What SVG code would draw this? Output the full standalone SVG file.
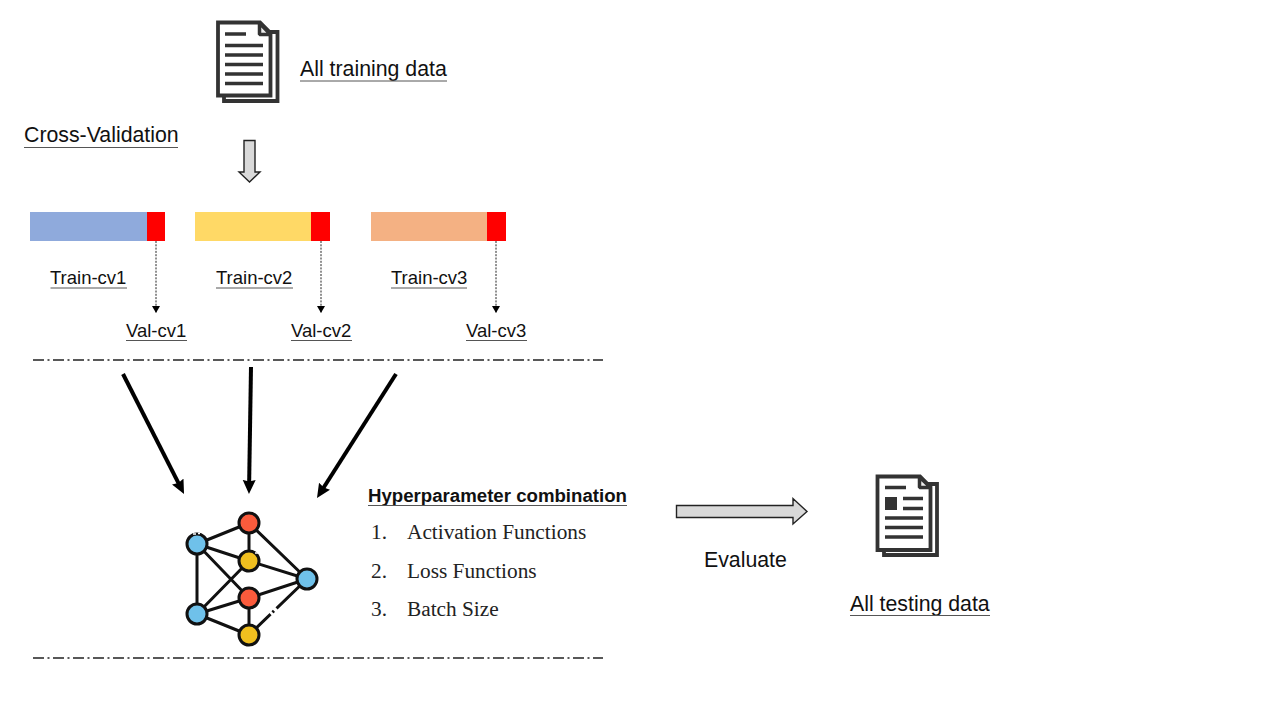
<svg xmlns="http://www.w3.org/2000/svg" width="1280" height="720" viewBox="0 0 1280 720">
<style>
text{font-family:"Liberation Sans",Arial,sans-serif;fill:#111;font-size:21.3px}
.m{font-size:18.500px}
.b{font-size:18.650px;font-weight:bold}
.s{font-family:"Liberation Serif","Times New Roman",serif;font-size:21.300px;fill:#222}
.u{stroke:#555;stroke-width:1;fill:none}
.dd{stroke:#222;stroke-width:1.300;stroke-dasharray:11 3.500 2 3.500;fill:none}
.dot{stroke:#222;stroke-width:1;stroke-dasharray:2 1.300;fill:none}
.big{stroke:#000;stroke-width:4;fill:none}
.page{fill:#fff;stroke:#333;stroke-width:3.800}
.fold{fill:#eee;stroke:#333;stroke-width:3.500;stroke-linejoin:bevel}
.ln{stroke:#333;stroke-width:3.500}
.e{stroke:#111;stroke-width:3}
.n{stroke:#111;stroke-width:3}
.blk{fill:#6fc1ea}.red{fill:#fb5b3c}.yel{fill:#f0bf1f}
.blockarrow{fill:#d9d9d9;stroke:#222;stroke-width:1.400}
</style>
<defs><marker id="tri" markerWidth="8" markerHeight="8" refX="7" refY="4" orient="auto" markerUnits="userSpaceOnUse"><path d="M0 0L7 4L0 8Z" fill="#000"/></marker>
<marker id="bt" markerWidth="14" markerHeight="14" refX="6" refY="7" orient="auto" markerUnits="userSpaceOnUse"><path d="M0 .500L14 7L0 13.500L1.500 7Z" fill="#000"/></marker></defs>

<g id="doc-train">
<path class="page" d="M224 32H277.500V101H224Z"/>
<path class="page" d="M218 22.500H260L270.500 33V95.500H218Z"/>
<path class="fold" d="M259.500 23V34.500H270.500Z"/>
<g class="ln"><path d="M225 34H246M225 45.500H263M225 55H263M225 64.500H263M225 74H263M225 83.500H263"/></g>
</g>
<g id="label-train"><text x="300" y="76">All training data</text><path class="u" d="M300 81H447"/></g>
<g id="label-cv"><text x="24" y="142">Cross-Validation</text><path class="u" d="M24 147.500H178"/></g>
<path id="arrow-down" class="blockarrow" d="M244 140.500H255V172H260L249.500 182L239 172H244Z"/>

<g id="fold1"><rect x="30" y="212" width="117" height="29" fill="#8faadc"/><rect x="147" y="212" width="18" height="29" fill="#f00"/></g>
<g id="fold2"><rect x="195" y="212" width="116" height="29" fill="#ffd966"/><rect x="311" y="212" width="19" height="29" fill="#f00"/></g>
<g id="fold3"><rect x="371" y="212" width="116" height="29" fill="#f4b183"/><rect x="487" y="212" width="19" height="29" fill="#f00"/></g>

<g id="t1"><text class="m" x="50" y="284">Train-cv1</text><path class="u" d="M50.500 288H127"/></g>
<g id="t2"><text class="m" x="216" y="284">Train-cv2</text><path class="u" d="M216 288H293"/></g>
<g id="t3"><text class="m" x="391" y="284">Train-cv3</text><path class="u" d="M391 288H467"/></g>
<g id="v1"><text class="m" x="126" y="337">Val-cv1</text><path class="u" d="M126 340.500H187"/></g>
<g id="v2"><text class="m" x="291" y="337">Val-cv2</text><path class="u" d="M291 340.500H352"/></g>
<g id="v3"><text class="m" x="466" y="337">Val-cv3</text><path class="u" d="M466 340.500H527"/></g>

<g id="connectors">
<path class="dot" d="M156 241V313" marker-end="url(#tri)"/>
<path class="dot" d="M321 241V313" marker-end="url(#tri)"/>
<path class="dot" d="M496 241V313" marker-end="url(#tri)"/>
<path class="dd" d="M33 360H603"/>
<path class="dd" d="M33 658H603"/>
<path class="big" d="M123 374L180.400 486.900" marker-end="url(#bt)"/>
<path class="big" d="M251 367L249.100 486" marker-end="url(#bt)"/>
<path class="big" d="M396 374L321.300 491.300" marker-end="url(#bt)"/>
</g>

<g id="network">
<g class="e">
<path d="M197 544L249 523M197 544L249 561M197 544L249 598M197 544V614M197 614L249 561M197 614L249 598M197 614L249 635M249 523V561M249 598V635M249 523L307 579M249 561L307 579M249 598L307 579M249 635L307 579"/>
</g>
<path d="M270.500 614.200L272.500 612.300M274 610.900L276.500 608.400" stroke="#fff" stroke-width="4.500"/>
<circle class="n blk" cx="197" cy="544" r="10"/><circle class="n red" cx="249" cy="523" r="10"/><circle class="n yel" cx="249" cy="561" r="10"/><circle class="n red" cx="249" cy="598" r="10"/><circle class="n yel" cx="249" cy="635" r="10"/><circle class="n blk" cx="197" cy="614" r="10"/><circle class="n blk" cx="307" cy="579" r="10"/>
<path d="M193 534L196 534M198 533.500L200 533.500M255 553L258 553" stroke="#fff" stroke-width="1.500"/>
</g>

<g id="hyper">
<text class="b" x="368" y="502">Hyperparameter combination</text><path class="u" d="M368 505.500H627"/>
<text class="s" x="371" y="539">1.</text><text class="s" x="407" y="539">Activation Functions</text>
<text class="s" x="371" y="578">2.</text><text class="s" x="407" y="578">Loss Functions</text>
<text class="s" x="371" y="616">3.</text><text class="s" x="407" y="616">Batch Size</text>
</g>

<path id="arrow-eval" class="blockarrow" d="M676.500 505.500H793V498.500L807 511.500L793 524V517.500H676.500Z"/>
<g id="evaluate"><text x="704" y="567">Evaluate</text></g>

<g id="doc-test">
<path class="page" d="M884 484H937V555H884Z"/>
<path class="page" d="M877.500 476.500H920L930.500 487V550H877.500Z"/>
<path class="fold" d="M919.500 477V487.500H930.500Z"/>
<rect x="885" y="497" width="12" height="13" fill="#333"/>
<g class="ln"><path d="M885 487.500H906M903 498.500H923M903 508.500H923M885 518H923M885 527.500H923M885 537H923"/></g>
</g>
<g id="label-test"><text x="850" y="611">All testing data</text><path class="u" d="M850 615.500H990"/></g>
</svg>
